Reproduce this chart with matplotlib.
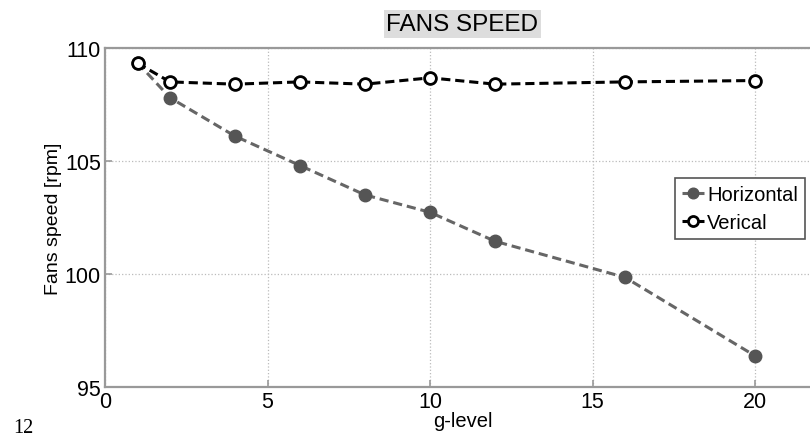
import matplotlib
matplotlib.use("Agg")
import matplotlib.pyplot as plt

g_level = [1, 2, 4, 6, 8, 10, 12, 16, 20]
horizontal = [109.35, 107.8, 106.1, 104.8, 103.5, 102.73, 101.45, 99.85, 96.38]
vertical = [109.33, 108.5, 108.4, 108.5, 108.4, 108.68, 108.4, 108.5, 108.56]

plt.rcParams["font.family"] = ["Liberation Sans", "DejaVu Sans"]

fig = plt.figure(figsize=(8.1, 4.39), dpi=100)
ax = fig.add_axes([105 / 810, 51 / 439, 715 / 810, 339 / 439])

ax.plot(g_level, horizontal, linestyle="--", color="#666666", linewidth=2.2,
        marker="o", markersize=9, markerfacecolor="#555555", markeredgecolor="#555555",
        label="Horizontal", dashes=(3, 1.6))
ax.plot(g_level, vertical, linestyle="--", color="black", linewidth=2.2,
        marker="o", markersize=8.5, markerfacecolor="white", markeredgecolor="black",
        markeredgewidth=2, label="Verical", dashes=(3, 1.6))

ax.set_xlim(0, 22)
ax.set_ylim(95, 110)
ax.set_xticks([0, 5, 10, 15, 20])
ax.set_yticks([95, 100, 105, 110])
ax.tick_params(direction="in", labelsize=15.5, length=5, width=1.2, colors="#999999",
               labelcolor="black", pad=3)
ax.grid(True, linestyle=":", color="#bbbbbb", linewidth=0.9)
for side in ["left", "bottom", "top", "right"]:
    ax.spines[side].set_linewidth(1.6)
    ax.spines[side].set_color("#999999")

ax.set_xlabel("g-level", fontsize=14.5, labelpad=-1)
ax.set_ylabel("Fans speed [rpm]", fontsize=14, labelpad=2)
ax.set_title("FANS SPEED", fontsize=17.5, pad=13,
             bbox=dict(facecolor="#dddddd", edgecolor="none", pad=2))

leg = ax.legend(loc="upper left", fontsize=14.5, handlelength=1.1,
                handletextpad=0.15, borderpad=0.35, labelspacing=0.45, fancybox=False,
                framealpha=1, borderaxespad=0, markerscale=0.85)
leg.set_bbox_to_anchor((675 / 810, 1 - 179 / 439), transform=fig.transFigure)
leg.get_frame().set_edgecolor("#555555")
leg.get_frame().set_linewidth(1.2)

fig.text(13 / 810, 1 - 433 / 439, "12", fontsize=14.5, family="Liberation Serif")

fig.savefig("out.png", dpi=100)
